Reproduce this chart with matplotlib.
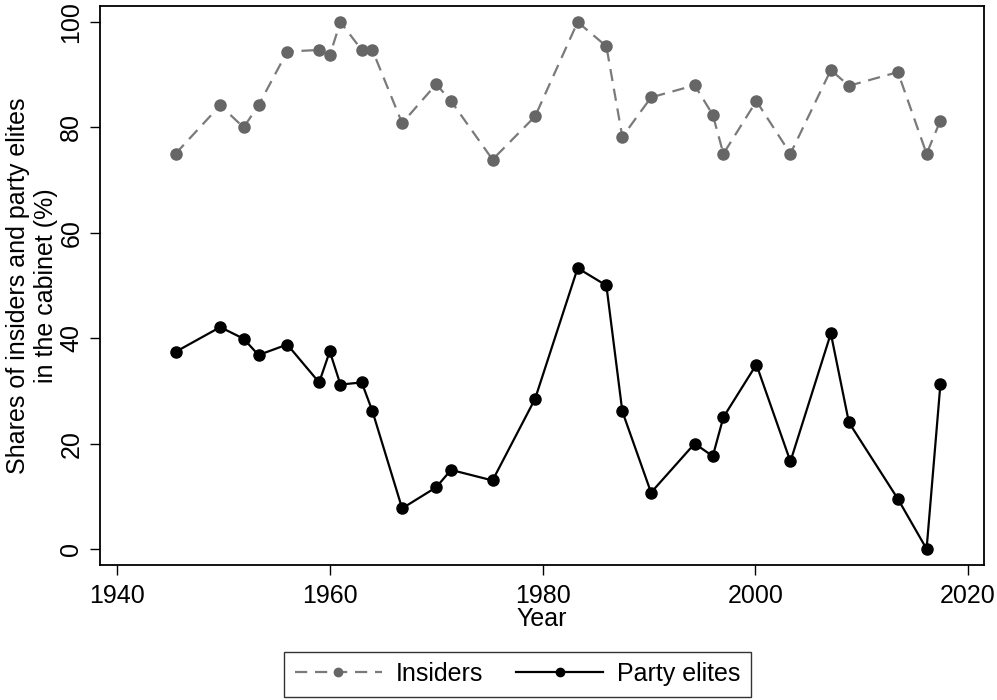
import matplotlib
matplotlib.use("Agg")
import matplotlib.pyplot as plt

plt.rcParams['font.family'] = ['Liberation Sans', 'DejaVu Sans']

years = [1945.5, 1949.7, 1951.9, 1953.3, 1956.0, 1959.0, 1960.0, 1961.0, 1963.0, 1964.0,
         1966.8, 1970.0, 1971.4, 1975.3, 1979.3, 1983.3, 1986.0, 1987.5, 1990.2, 1994.3,
         1996.0, 1997.0, 2000.1, 2003.3, 2007.1, 2008.8, 2013.4, 2016.1, 2017.4]
insiders = [75.0, 84.2, 80.0, 84.2, 94.4, 94.7, 93.7, 100.0, 94.7, 94.7,
            80.8, 88.2, 85.0, 73.9, 82.1, 100.0, 95.4, 78.2, 85.7, 88.0,
            82.4, 75.0, 85.0, 75.0, 90.9, 87.9, 90.5, 75.0, 81.3]
party_elites = [37.4, 42.1, 39.9, 36.8, 38.8, 31.6, 37.5, 31.2, 31.6, 26.2,
                7.7, 11.7, 15.0, 13.0, 28.5, 53.3, 50.0, 26.1, 10.7, 20.0,
                17.6, 25.0, 35.0, 16.6, 40.9, 24.0, 9.5, 0.0, 31.3]
xticks = [1940, 1960, 1980, 2000, 2020]
yticks = [0, 20, 40, 60, 80, 100]

fig = plt.figure(figsize=(9.97, 7.0), dpi=100)
ax = fig.add_axes([0.1003, 0.1929, 0.8867, 0.7985])

ax.plot(years, insiders, color='#7a7a7a', lw=1.6, dashes=(5.5, 3.5),
        marker='o', markersize=8, markerfacecolor='#666666', markeredgecolor='#666666',
        label='Insiders')
ax.plot(years, party_elites, color='black', lw=1.6,
        marker='o', markersize=8, markerfacecolor='black', markeredgecolor='black',
        label='Party elites')

ax.set_xlim(1938.4, 2021.5)
ax.set_ylim(-3.04, 103.04)
ax.set_xticks(xticks)
ax.set_yticks(yticks)
ax.tick_params(axis='both', direction='out', length=7, width=1.0, labelsize=18)
ax.tick_params(axis='x', pad=7)
ax.tick_params(axis='y', pad=5)
for lab in ax.get_yticklabels():
    lab.set_rotation(90)
    lab.set_va('center')
for s in ax.spines.values():
    s.set_linewidth(1.3)

ax.set_xlabel('Year', fontsize=18, labelpad=-1)
ax.set_ylabel('Shares of insiders and party elites\nin the cabinet (%)', fontsize=18,
              labelpad=1, linespacing=1.2)

leg = fig.legend(loc='center', bbox_to_anchor=(517.5 / 997, 1 - 674 / 700), ncol=2,
                 fontsize=18, frameon=True, fancybox=False, edgecolor='black',
                 handlelength=3.5, columnspacing=1.3, handletextpad=0.55,
                 borderpad=0.42, borderaxespad=0, markerscale=0.75)
leg.get_frame().set_linewidth(1.0)

fig.savefig('out.png', dpi=100)
